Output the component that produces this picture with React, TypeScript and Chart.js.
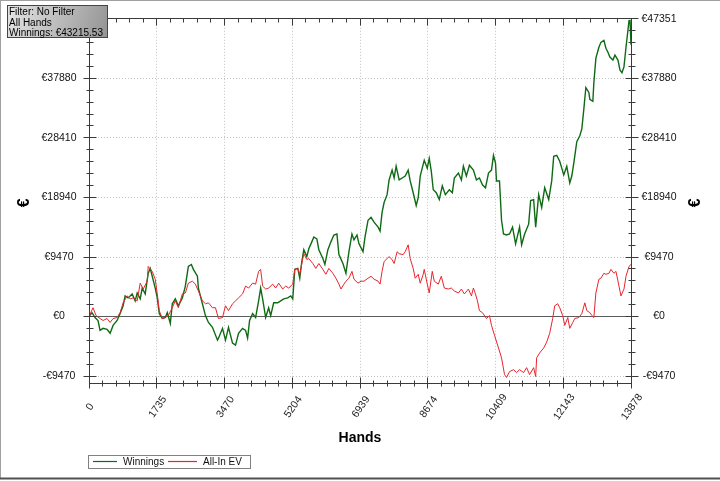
import React, { useEffect, useRef } from 'react';
import { Chart, registerables } from 'chart.js';

Chart.register(...registerables);

// ---------- data ----------
const xTicks = [0, 1735, 3470, 5204, 6939, 8674, 10409, 12143, 13878];
const xTickLabels = ['0', '1735', '3470', '5204', '6939', '8674', '10409', '12143', '13878'];
const yTicks = [-9470, 0, 9470, 18940, 28410, 37880, 47351];
const yTickLabels = ['-€9470', '€0', '€9470', '€18940', '€28410', '€37880', '€47351'];
const X_MAX = 13878;
const Y_MIN = -10566;
const Y_MAX = 47351;

const infoLines = ['Filter: No Filter', 'All Hands', 'Winnings: €43215.53'];
const seriesNames = ['Winnings', 'All-In EV'];
const seriesColors = ['#0f6a14', '#e8252d'];
const xTitle = 'Hands';
const yTitle = '€';

const winHands = [
  0, 77, 154, 231, 283, 360, 463, 540, 617, 720,
  797, 874, 925, 1002, 1105, 1182, 1234, 1311, 1362, 1439,
  1516, 1568, 1619, 1696, 1748, 1799, 1876, 1953, 2005, 2082,
  2133, 2210, 2287, 2390, 2467, 2544, 2621, 2673, 2776, 2801,
  2904, 2981, 3058, 3161, 3290, 3315, 3418, 3495, 3572, 3675,
  3752, 3829, 3932, 4009, 4061, 4112, 4189, 4266, 4343, 4395,
  4446, 4523, 4600, 4652, 4729, 4832, 4909, 4986, 5089, 5166,
  5217, 5269, 5346, 5397, 5449, 5500, 5577, 5628, 5705, 5757,
  5834, 5885, 5988, 6040, 6117, 6194, 6271, 6348, 6399, 6502,
  6579, 6656, 6733, 6785, 6862, 6913, 7016, 7068, 7145, 7222,
  7299, 7402, 7453, 7504, 7556, 7633, 7684, 7761, 7813, 7864,
  7941, 8018, 8096, 8173, 8224, 8301, 8378, 8430, 8481, 8532,
  8584, 8661, 8712, 8764, 8815, 8892, 8969, 9046, 9124, 9226,
  9303, 9355, 9458, 9535, 9586, 9663, 9740, 9843, 9920, 9997,
  10074, 10152, 10229, 10306, 10357, 10409, 10434, 10511, 10563, 10614,
  10691, 10768, 10845, 10923, 11025, 11077, 11154, 11257, 11308, 11385,
  11437, 11514, 11591, 11668, 11771, 11848, 11899, 11976, 12053, 12105,
  12156, 12233, 12310, 12362, 12413, 12490, 12567, 12619, 12670, 12722,
  12799, 12824, 12901, 12927, 12979, 13056, 13107, 13184, 13236, 13287,
  13338, 13415, 13467, 13544, 13595, 13647, 13698, 13750, 13827, 13852,
  13878,
];
const winValues = [
  0, 625, -156, -625, -2188, -1876, -2032, -2657, -1407, -625,
  469, 1719, 3282, 2970, 3595, 2501, 3751, 2813, 4533, 3595,
  6877, 7659, 6408, 4533, 2970, 469, -313, -156, 625, -1094,
  2032, 2813, 1719, 2970, 4845, 7971, 8284, 7502, 6408, 4533,
  2032, 156, -938, -1719, -3751, -3439, -1876, -3751, -1719, -4220,
  -4533, -2657, -1876, -2188, -3439, -625, 469, -156, 2501, 4533,
  2813, -156, 1407, 156, 2188, 2188, 2501, 2813, 2970, 3282,
  2813, 7502, 7659, 6096, 8753, 10628, 9534, 10785, 11879, 12660,
  12348, 10628, 9222, 8284, 10628, 11879, 12973, 13129, 9847, 8440,
  6877, 10316, 13129, 12191, 12973, 11566, 10316, 12660, 15317, 15786,
  15005, 14223, 13598, 16568, 18131, 19381, 21726, 23289, 22038, 23914,
  21726, 22038, 22351, 23289, 21569, 19694, 17662, 18912, 22351, 23602,
  24852, 23602, 25165, 23133, 20163, 19694, 18600, 20788, 19381, 20163,
  19694, 22038, 22820, 21726, 23914, 22351, 24070, 23289, 21726, 22038,
  20944, 20475, 22820, 23289, 25633, 24383, 21569, 21569, 15317, 13129,
  12973, 13129, 14223, 11566, 14223, 11410, 13129, 14692, 18443, 18600,
  14223, 19381, 17349, 20475, 18600, 21569, 25477, 25633, 24695, 23602,
  22507, 23914, 21256, 22351, 24383, 27821, 28759, 29853, 32979, 36418,
  35636, 34542, 34230, 37199, 41106, 42826, 43607, 43920, 42669, 42044,
  41263, 40794, 41576, 40794, 39231, 38762, 39700, 42826, 47046, 47200,
  43215.53,
];

const evHands = [
  0, 103, 180, 283, 360, 463, 540, 617, 720, 797,
  874, 977, 1054, 1131, 1234, 1311, 1388, 1491, 1516, 1619,
  1696, 1748, 1799, 1876, 1953, 2030, 2133, 2210, 2287, 2390,
  2467, 2544, 2647, 2724, 2801, 2904, 2981, 3058, 3161, 3238,
  3315, 3418, 3495, 3572, 3675, 3752, 3829, 3932, 4009, 4086,
  4189, 4266, 4343, 4395, 4446, 4523, 4600, 4703, 4780, 4857,
  4960, 5037, 5114, 5217, 5269, 5346, 5397, 5449, 5500, 5577,
  5628, 5731, 5808, 5885, 5988, 6065, 6142, 6245, 6322, 6399,
  6451, 6528, 6579, 6656, 6733, 6785, 6888, 6965, 7042, 7145,
  7222, 7299, 7402, 7453, 7504, 7556, 7633, 7684, 7761, 7813,
  7890, 7941, 8044, 8096, 8173, 8224, 8301, 8353, 8430, 8481,
  8558, 8584, 8661, 8712, 8789, 8841, 8944, 9021, 9098, 9201,
  9278, 9355, 9458, 9535, 9612, 9715, 9792, 9843, 9895, 9946,
  9997, 10074, 10177, 10254, 10306, 10383, 10486, 10563, 10640, 10691,
  10768, 10871, 10948, 11025, 11128, 11205, 11282, 11385, 11437, 11462,
  11539, 11642, 11719, 11796, 11873, 11925, 12002, 12053, 12130, 12182,
  12259, 12310, 12387, 12439, 12542, 12619, 12696, 12747, 12824, 12876,
  12927, 12979, 13056, 13107, 13184, 13236, 13313, 13364, 13441, 13493,
  13570, 13621, 13698, 13750, 13827, 13878,
];
const evValues = [
  0, 1407, 156, -313, -625, -313, -938, -313, -156, 625,
  2188, 3282, 2813, 2970, 2501, 5314, 4376, 5627, 7971, 7190,
  5939, 3595, 938, -313, -156, 156, 1407, 2501, 1407, 3595,
  3751, 5314, 5627, 5158, 4064, 2501, 2032, 2188, 1407, 1407,
  -313, -156, 1719, 938, 2032, 2501, 2970, 3595, 4845, 4533,
  5314, 5158, 7190, 7502, 4845, 4376, 4533, 5158, 4533, 5314,
  4376, 4845, 4533, 5158, 7502, 7659, 6721, 8440, 10003, 9065,
  9222, 8440, 7659, 8440, 7502, 6721, 7659, 6877, 6096, 5158,
  4376, 5158, 5627, 6096, 7190, 5939, 5314, 5627, 5627, 6096,
  6408, 5939, 5627, 5158, 7190, 8753, 9222, 9534, 9065, 8440,
  10316, 10003, 9847, 10316, 11410, 9222, 7659, 6096, 6721, 5314,
  6721, 7502, 5158, 3751, 7190, 5627, 5158, 6408, 4533, 4376,
  4533, 4064, 3751, 4376, 3595, 4376, 3282, 4533, 3595, 2501,
  938, 625, -313, 156, -1407, -2970, -5002, -6565, -9222, -9691,
  -8753, -8440, -8909, -8440, -8909, -8128, -9222, -8128, -9534, -6565,
  -5783, -5002, -4064, -2657, -313, 1719, 2032, 1407, 156, -1407,
  -156, -1876, -938, -313, -156, 469, 2188, 938, 625, 156,
  -156, 3751, 5939, 6096, 6877, 6721, 6877, 7502, 6877, 7190,
  4845, 3282, 4376, 6408, 7971, 8284,
];

const FONT = '"Liberation Sans", Arial, sans-serif';

const framePlugin = {
  id: 'frame',
  beforeDraw(chart: any) {
    const { ctx, width, height } = chart;
    ctx.save();
    ctx.fillStyle = '#ffffff';
    ctx.fillRect(0, 0, width, height);
    ctx.restore();
  },
  beforeDatasetsDraw(chart: any) {
    const { ctx, chartArea: a, scales } = chart;
    const y0 = Math.floor(scales.y.getPixelForValue(0)) + 0.5;
    ctx.save();
    ctx.strokeStyle = '#5c5c5c';
    ctx.lineWidth = 1;
    ctx.beginPath();
    ctx.moveTo(a.left, y0);
    ctx.lineTo(a.right, y0);
    ctx.stroke();
    ctx.restore();
  },
  afterDraw(chart: any) {
    const { ctx, chartArea: a, scales } = chart;
    const xs = scales.x;
    const ys = scales.y;
    const L = Math.floor(a.left) + 0.5;
    const R = Math.floor(a.right) + 0.5;
    const T = Math.floor(a.top) + 0.5;
    const B = Math.floor(a.bottom) + 0.5;
    ctx.save();
    ctx.setLineDash([]);
    ctx.strokeStyle = '#3a3a3a';
    ctx.lineWidth = 1;
    ctx.beginPath();
    // frame
    ctx.moveTo(L, T); ctx.lineTo(R, T);
    ctx.moveTo(L, B); ctx.lineTo(R, B);
    ctx.moveTo(L, T); ctx.lineTo(L, B);
    ctx.moveTo(R, T); ctx.lineTo(R, B);
    // y ticks
    for (let i = 0; i < yTicks.length; i++) {
      const py = Math.floor(ys.getPixelForValue(yTicks[i])) + 0.5;
      ctx.moveTo(L - 6, py); ctx.lineTo(L + 7, py);
      ctx.moveTo(R - 6, py); ctx.lineTo(R + 7, py);
      if (i < yTicks.length - 1) {
        for (let k = 1; k < 5; k++) {
          const v = yTicks[i] + ((yTicks[i + 1] - yTicks[i]) * k) / 5;
          const pm = Math.floor(ys.getPixelForValue(v)) + 0.5;
          ctx.moveTo(L - 3, pm); ctx.lineTo(L + 4, pm);
          ctx.moveTo(R - 3, pm); ctx.lineTo(R + 4, pm);
        }
      }
    }
    // x ticks
    for (let i = 0; i < xTicks.length; i++) {
      const px = Math.floor(xs.getPixelForValue(xTicks[i])) + 0.5;
      ctx.moveTo(px, B - 6); ctx.lineTo(px, B + 5);
      ctx.moveTo(px, T); ctx.lineTo(px, T + 7);
      if (i < xTicks.length - 1) {
        for (let k = 1; k < 5; k++) {
          const v = xTicks[i] + ((xTicks[i + 1] - xTicks[i]) * k) / 5;
          const pm = Math.floor(xs.getPixelForValue(v)) + 0.5;
          ctx.moveTo(pm, B - 3); ctx.lineTo(pm, B + 3);
          ctx.moveTo(pm, T); ctx.lineTo(pm, T + 4);
        }
      }
    }
    ctx.stroke();

    // x tick labels (rotated about their centre)
    ctx.fillStyle = '#1a1a1a';
    ctx.font = `10.5px ${FONT}`;
    ctx.textAlign = 'center';
    ctx.textBaseline = 'middle';
    for (let i = 0; i < xTicks.length; i++) {
      const px = xs.getPixelForValue(xTicks[i]);
      ctx.save();
      ctx.translate(px + 1, a.bottom + 24);
      ctx.rotate((-55 * Math.PI) / 180);
      ctx.fillText(xTickLabels[i], 0, 0);
      ctx.restore();
    }

    // axis titles
    ctx.fillStyle = '#000';
    ctx.font = `bold 14px ${FONT}`;
    ctx.fillText(xTitle, (a.left + a.right) / 2, 438);
    ctx.font = `bold 16px ${FONT}`;
    const yMid = (a.top + a.bottom) / 2 + 2;
    [25, 696].forEach((cx) => {
      ctx.save();
      ctx.translate(cx, yMid);
      ctx.rotate(-Math.PI / 2);
      ctx.fillText(yTitle, 0, 0);
      ctx.restore();
    });

    // legend
    ctx.lineWidth = 1;
    ctx.strokeStyle = '#808080';
    ctx.strokeRect(88.5, 455.5, 162, 13);
    ctx.font = `10px ${FONT}`;
    ctx.textAlign = 'left';
    ctx.textBaseline = 'alphabetic';
    const legendItems = [
      { x0: 93, x1: 117, tx: 123 },
      { x0: 168, x1: 197, tx: 203 },
    ];
    for (let i = 0; i < legendItems.length; i++) {
      const it = legendItems[i];
      ctx.beginPath();
      ctx.strokeStyle = seriesColors[i];
      ctx.lineWidth = 1.2;
      ctx.moveTo(it.x0, 461.5);
      ctx.lineTo(it.x1, 461.5);
      ctx.stroke();
      ctx.fillStyle = '#111';
      ctx.fillText(seriesNames[i], it.tx, 465);
    }

    // info box
    ctx.lineWidth = 1;
    const g = ctx.createLinearGradient(7, 5, 108, 38);
    g.addColorStop(0, '#e6e6e6');
    g.addColorStop(1, '#939393');
    ctx.fillStyle = g;
    ctx.fillRect(7, 5, 101, 33);
    ctx.strokeStyle = '#454545';
    ctx.strokeRect(7.5, 5.5, 100, 32);
    ctx.fillStyle = '#000';
    ctx.font = `10px ${FONT}`;
    infoLines.forEach((t, i) => ctx.fillText(t, 9, 15 + i * 10.7));

    // outer border
    ctx.strokeStyle = '#a0a0a0';
    ctx.beginPath();
    ctx.moveTo(0.5, 0); ctx.lineTo(0.5, 479);
    ctx.moveTo(0, 0.5); ctx.lineTo(720, 0.5);
    ctx.stroke();
    ctx.strokeStyle = '#505050';
    ctx.lineWidth = 2;
    ctx.beginPath();
    ctx.moveTo(0, 478.5); ctx.lineTo(720, 478.5);
    ctx.stroke();
    ctx.restore();
  },
};

const gridColor = (c: any) => (c.tick && c.tick.value === 0 ? 'rgba(0,0,0,0)' : '#c2c2c2');

export default function App() {
  const ref = useRef<HTMLCanvasElement | null>(null);
  useEffect(() => {
    if (!ref.current) return;
    const yTickCallback = (v: any) => {
      const idx = yTicks.indexOf(Number(v));
      return idx >= 0 ? yTickLabels[idx] : '';
    };
    const chart = new Chart(ref.current, {
      type: 'line',
      data: {
        datasets: [
          {
            label: seriesNames[0],
            data: winHands.map((h, i) => ({ x: h, y: winValues[i] })),
            borderColor: seriesColors[0],
            borderWidth: 1.4,
            pointRadius: 0,
            tension: 0,
            fill: false,
            order: 1,
          },
          {
            label: seriesNames[1],
            data: evHands.map((h, i) => ({ x: h, y: evValues[i] })),
            borderColor: seriesColors[1],
            borderWidth: 1,
            pointRadius: 0,
            tension: 0,
            fill: false,
            order: 0,
          },
        ],
      },
      options: {
        animation: false,
        responsive: false,
        events: [],
        layout: { padding: { top: 13, left: 0, right: 0, bottom: 0 } },
        plugins: { legend: { display: false }, tooltip: { enabled: false } },
        scales: {
          x: {
            type: 'linear',
            min: 0,
            max: X_MAX,
            afterBuildTicks: (s: any) => {
              s.ticks = xTicks.map((v) => ({ value: v }));
            },
            afterFit: (s: any) => {
              s.height = 98;
            },
            ticks: { display: false },
            grid: { color: '#c2c2c2', drawTicks: false, lineWidth: 1 },
            border: { display: false, dash: [1, 2] },
          },
          y: {
            type: 'linear',
            position: 'left',
            min: Y_MIN,
            max: Y_MAX,
            afterBuildTicks: (s: any) => {
              s.ticks = yTicks.map((v) => ({ value: v }));
            },
            afterFit: (s: any) => {
              s.width = 89;
            },
            ticks: {
              callback: yTickCallback,
              crossAlign: 'center',
              padding: 12.5,
              autoSkip: false,
              color: '#111',
              font: { family: FONT, size: 10.5 },
            },
            grid: { color: gridColor, drawTicks: false, lineWidth: 1 },
            border: { display: false, dash: [1, 2] },
          },
          y2: {
            type: 'linear',
            position: 'right',
            min: Y_MIN,
            max: Y_MAX,
            afterBuildTicks: (s: any) => {
              s.ticks = yTicks.map((v) => ({ value: v }));
            },
            afterFit: (s: any) => {
              s.width = 89;
            },
            ticks: {
              callback: yTickCallback,
              crossAlign: 'center',
              padding: 10.5,
              autoSkip: false,
              color: '#111',
              font: { family: FONT, size: 10.5 },
            },
            grid: { display: false, drawTicks: false },
            border: { display: false },
          },
        },
      } as any,
      plugins: [framePlugin],
    });
    return () => chart.destroy();
  }, []);

  return (
    <div style={{ position: 'fixed', left: 0, top: 0, width: 720, height: 481, background: '#fff' }}>
      <canvas ref={ref} width={720} height={481} style={{ display: 'block', width: 720, height: 481 }} />
    </div>
  );
}
